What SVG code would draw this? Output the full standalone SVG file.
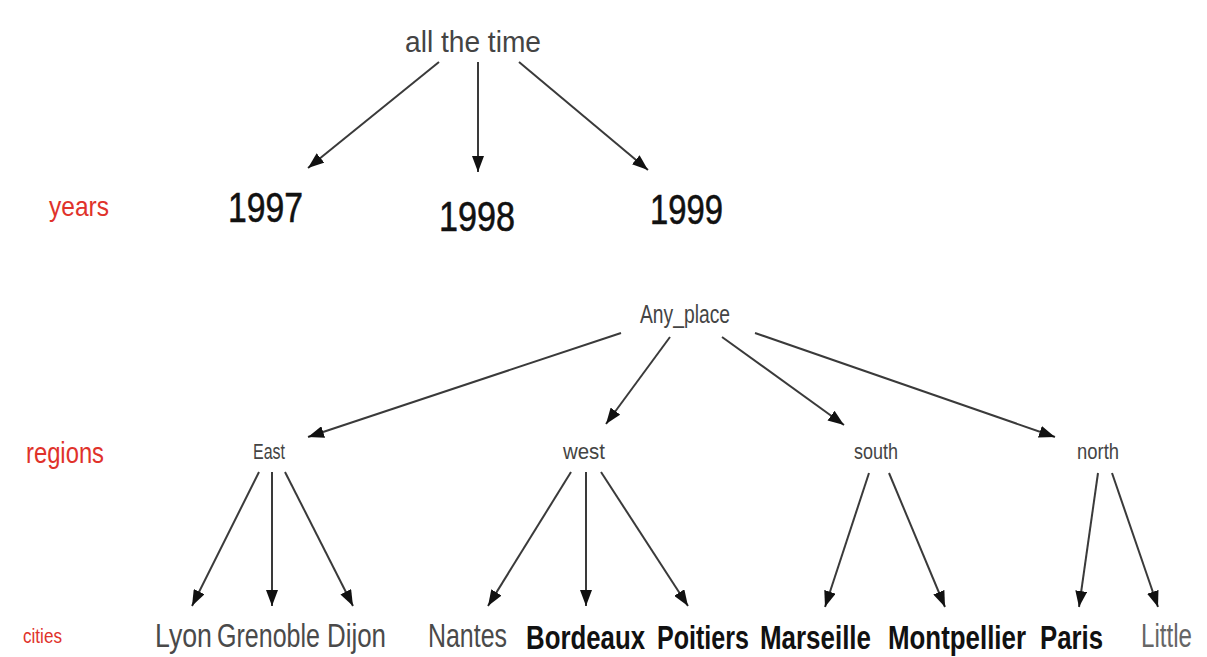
<svg xmlns="http://www.w3.org/2000/svg" width="1207" height="657" viewBox="0 0 1207 657">
  <style>
    text { font-family: "Liberation Sans", Arial, sans-serif; }
    .lvl { fill: #e0322a; }
    .node { fill: #444; }
    .year { fill: #111; font-size: 43px; stroke: #111; stroke-width: 0.6; }
    .city { font-size: 34px; fill: #4a4a4a; }
    .strong { fill: #111; font-weight: bold; }
    .light { fill: #666; }
    .edge { stroke: #3a3a3a; stroke-width: 2; fill: none; marker-end: url(#head); }
  </style>
  <defs>
    <marker id="head" markerUnits="userSpaceOnUse" markerWidth="16" markerHeight="12" refX="16" refY="6" orient="auto">
      <path d="M0,0 L16,6 L0,12 z" fill="#111"/>
    </marker>
  </defs>
  <rect width="1207" height="657" fill="#fff"/>

  <!-- level labels -->
  <g id="level-years"><text class="lvl" x="49" y="216" font-size="28" textLength="60" lengthAdjust="spacingAndGlyphs">years</text></g>
  <g id="level-regions"><text class="lvl" x="26" y="463" font-size="29" textLength="78" lengthAdjust="spacingAndGlyphs">regions</text></g>
  <g id="level-cities"><text class="lvl" x="23" y="643" font-size="20" textLength="39" lengthAdjust="spacingAndGlyphs">cities</text></g>

  <!-- connectors -->
  <g id="connectors">
    <line class="edge" x1="439" y1="62" x2="308" y2="168"/>
    <line class="edge" x1="478" y1="62" x2="478" y2="172"/>
    <line class="edge" x1="519" y1="62" x2="648" y2="170"/>

    <line class="edge" x1="621" y1="333" x2="308" y2="437"/>
    <line class="edge" x1="670" y1="337" x2="606" y2="424"/>
    <line class="edge" x1="722" y1="337" x2="844" y2="425"/>
    <line class="edge" x1="755" y1="333" x2="1055" y2="437"/>

    <line class="edge" x1="259" y1="472" x2="192" y2="606"/>
    <line class="edge" x1="272" y1="472" x2="272" y2="606"/>
    <line class="edge" x1="285" y1="472" x2="353" y2="606"/>

    <line class="edge" x1="571" y1="472" x2="488" y2="606"/>
    <line class="edge" x1="586" y1="472" x2="586" y2="606"/>
    <line class="edge" x1="601" y1="472" x2="688" y2="606"/>

    <line class="edge" x1="869" y1="473" x2="825" y2="607"/>
    <line class="edge" x1="889" y1="473" x2="945" y2="607"/>

    <line class="edge" x1="1098" y1="473" x2="1079" y2="607"/>
    <line class="edge" x1="1112" y1="473" x2="1158" y2="607"/>
  </g>

  <!-- time hierarchy -->
  <g id="all-the-time"><text class="node" fill="#333" x="405" y="52" font-size="29" textLength="136" lengthAdjust="spacingAndGlyphs">all the time</text></g>
  <g id="y1997"><text class="year" x="228" y="222" textLength="75" lengthAdjust="spacingAndGlyphs">1997</text></g>
  <g id="y1998"><text class="year" x="439" y="231" textLength="76" lengthAdjust="spacingAndGlyphs">1998</text></g>
  <g id="y1999"><text class="year" x="650" y="224" textLength="73" lengthAdjust="spacingAndGlyphs">1999</text></g>

  <!-- place hierarchy -->
  <g id="any-place"><text class="node" x="640" y="323" font-size="26" textLength="90" lengthAdjust="spacingAndGlyphs">Any_place</text></g>
  <g id="east"><text class="node" x="253" y="459" font-size="22" textLength="32" lengthAdjust="spacingAndGlyphs">East</text></g>
  <g id="west"><text class="node" x="563" y="459" font-size="22" textLength="42" lengthAdjust="spacingAndGlyphs">west</text></g>
  <g id="south"><text class="node" x="854" y="459" font-size="22" textLength="44" lengthAdjust="spacingAndGlyphs">south</text></g>
  <g id="north"><text class="node" x="1077" y="459" font-size="22" textLength="42" lengthAdjust="spacingAndGlyphs">north</text></g>

  <g id="lyon"><text class="city" x="155" y="647" textLength="57" lengthAdjust="spacingAndGlyphs">Lyon</text></g>
  <g id="grenoble"><text class="city" x="217" y="647" textLength="103" lengthAdjust="spacingAndGlyphs">Grenoble</text></g>
  <g id="dijon"><text class="city" x="327" y="647" textLength="59" lengthAdjust="spacingAndGlyphs">Dijon</text></g>
  <g id="nantes"><text class="city" x="428" y="647" textLength="79" lengthAdjust="spacingAndGlyphs">Nantes</text></g>
  <g id="bordeaux"><text class="city strong" x="526" y="649" textLength="119" lengthAdjust="spacingAndGlyphs">Bordeaux</text></g>
  <g id="poitiers"><text class="city strong" x="657" y="649" textLength="92" lengthAdjust="spacingAndGlyphs">Poitiers</text></g>
  <g id="marseille"><text class="city strong" x="760" y="649" textLength="111" lengthAdjust="spacingAndGlyphs">Marseille</text></g>
  <g id="montpellier"><text class="city strong" x="888" y="649" textLength="138" lengthAdjust="spacingAndGlyphs">Montpellier</text></g>
  <g id="paris"><text class="city strong" x="1040" y="649" textLength="63" lengthAdjust="spacingAndGlyphs">Paris</text></g>
  <g id="little"><text class="city light" x="1141" y="647" font-size="30" textLength="51" lengthAdjust="spacingAndGlyphs">Little</text></g>
</svg>
